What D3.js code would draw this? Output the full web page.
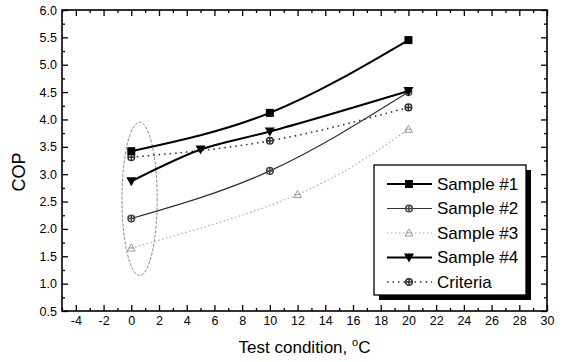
<!DOCTYPE html>
<html>
<head>
<meta charset="utf-8">
<script src="https://cdn.jsdelivr.net/npm/d3@7"></script>
<style>
  body { margin: 0; background: #fff; }
  svg { font-family: "Liberation Sans", Arial, sans-serif; }
</style>
</head>
<body>
<svg id="chart"></svg>
<script>
var width = 567,
    height = 362;

// data
var sample1 = [[0, 3.42], [10, 4.12], [20, 5.45]];
var sample2 = [[0, 2.19], [10, 3.06], [20, 4.50]];
var sample3 = [[0, 1.65], [12, 2.63], [20, 3.82]];
var sample4 = [[0, 2.87], [5, 3.45], [10, 3.78], [20, 4.52]];
var criteria = [[0, 3.31], [10, 3.61], [20, 4.22]];

var seriesNames = ['Sample #1', 'Sample #2', 'Sample #3', 'Sample #4', 'Criteria'];
var xMajor = d3.range(-4, 31, 2);
var yMajor = d3.range(0.5, 6.01, 0.5);

var MARGIN = { LEFT: 62, RIGHT: 20, TOP: 10, BOTTOM: 51 };

var series = [
    { name: seriesNames[0], data: sample1, stroke: '#000', sw: 2, dash: null, marker: 'square', fill: '#000' },
    { name: seriesNames[1], data: sample2, stroke: '#333', sw: 1.2, dash: null, marker: 'cross', fill: '#444' },
    { name: seriesNames[2], data: sample3, stroke: '#aaa', sw: 1.2, dash: '1.5,2.5', marker: 'tri', fill: '#999' },
    { name: seriesNames[3], data: sample4, stroke: '#000', sw: 2, dash: null, marker: 'tridown', fill: '#000' },
    { name: seriesNames[4], data: criteria, stroke: '#333', sw: 1.6, dash: '1.5,4', marker: 'cross', fill: '#333' }
];

var innerW = width - MARGIN.LEFT - MARGIN.RIGHT,
    innerH = height - MARGIN.TOP - MARGIN.BOTTOM;

var xScale = d3.scaleLinear().domain([-5, 30]).range([0, innerW]);
var yScale = d3.scaleLinear().domain([0.5, 6.0]).range([innerH, 0]);

var svg = d3.select('#chart')
    .attr('width', width)
    .attr('height', height);

var g = svg.append('g')
    .attr('transform', 'translate(' + MARGIN.LEFT + ',' + MARGIN.TOP + ')');

// ticks, all four sides, pointing in
var xMinor = d3.range(-5, 31, 1).filter(function (d) { return xMajor.indexOf(d) < 0; });
var yMinor = d3.range(0.75, 6, 0.5);

function tickAxis(axis, scale, values, size, labels) {
    var a = axis(scale).tickValues(values).tickSize(size).tickPadding(5);
    if (!labels) a.tickFormat('');
    return a;
}

var fmtX = function (d) { return String(d); };
var fmtY = function (d) { return d.toFixed(1); };

var axBottom = g.append('g').attr('transform', 'translate(0,' + innerH + ')');
axBottom.append('g').call(tickAxis(d3.axisBottom, xScale, xMajor, -6, true).tickFormat(fmtX));
axBottom.append('g').call(tickAxis(d3.axisBottom, xScale, xMinor, -3, false));

var axTop = g.append('g');
axTop.append('g').call(tickAxis(d3.axisTop, xScale, xMajor, -6, false));
axTop.append('g').call(tickAxis(d3.axisTop, xScale, xMinor, -3, false));

var axLeft = g.append('g');
axLeft.append('g').call(tickAxis(d3.axisLeft, yScale, yMajor, -6, true).tickFormat(fmtY));
axLeft.append('g').call(tickAxis(d3.axisLeft, yScale, yMinor, -3, false));

var axRight = g.append('g').attr('transform', 'translate(' + innerW + ',0)');
axRight.append('g').call(tickAxis(d3.axisRight, yScale, yMajor, -6, false));
axRight.append('g').call(tickAxis(d3.axisRight, yScale, yMinor, -3, false));

g.selectAll('.domain').remove();
g.selectAll('.tick line').attr('stroke', '#000').attr('stroke-width', 1.3);
g.selectAll('.tick text').style('font-size', '12.5px').attr('fill', '#000');

g.append('rect')
    .attr('width', innerW)
    .attr('height', innerH)
    .attr('fill', 'none')
    .attr('stroke', '#000')
    .attr('stroke-width', 1.6);

// the dashed ellipse round the 0 °C points
var ell = { cx: 0.6, cy: 2.55, rx: 1.27, ry: 1.4 };
g.append('ellipse')
    .attr('cx', xScale(ell.cx))
    .attr('cy', yScale(ell.cy))
    .attr('rx', xScale(ell.cx + ell.rx) - xScale(ell.cx))
    .attr('ry', yScale(ell.cy - ell.ry) - yScale(ell.cy))
    .attr('fill', 'none')
    .attr('stroke', '#777')
    .attr('stroke-width', 0.9)
    .attr('stroke-dasharray', '3,1.5');

var line = d3.line()
    .x(function (d) { return xScale(d[0]); })
    .y(function (d) { return yScale(d[1]); })
    .curve(d3.curveNatural);

function drawMarker(sel, s, x, y) {
    if (s.marker === 'square') {
        sel.append('rect').attr('x', x - 4).attr('y', y - 4).attr('width', 8).attr('height', 8).attr('fill', s.fill);
    } else if (s.marker === 'tridown') {
        sel.append('path').attr('d', 'M' + (x - 5) + ',' + (y - 4) + 'L' + (x + 5) + ',' + (y - 4) + 'L' + x + ',' + (y + 5) + 'Z').attr('fill', s.fill);
    } else if (s.marker === 'tri') {
        sel.append('path').attr('d', 'M' + (x - 4) + ',' + (y + 3) + 'L' + (x + 4) + ',' + (y + 3) + 'L' + x + ',' + (y - 4) + 'Z')
            .attr('fill', 'none').attr('stroke', s.fill).attr('stroke-width', 1);
        sel.append('path').attr('d', 'M' + (x - 3) + ',' + y + 'L' + (x + 3) + ',' + y).attr('stroke', s.fill).attr('stroke-width', 0.8);
    } else {
        sel.append('circle').attr('cx', x).attr('cy', y).attr('r', 3.3).attr('fill', 'none').attr('stroke', s.fill).attr('stroke-width', 1.5);
        sel.append('path').attr('d', 'M' + (x - 3.3) + ',' + y + 'L' + (x + 3.3) + ',' + y + 'M' + x + ',' + (y - 3.3) + 'L' + x + ',' + (y + 3.3))
            .attr('stroke', s.fill).attr('stroke-width', 1.5);
    }
}

var drawOrder = [2, 4, 1, 3, 0];
drawOrder.forEach(function (i) {
    var s = series[i];
    var sg = g.append('g');
    sg.append('path')
        .datum(s.data)
        .attr('d', line)
        .attr('fill', 'none')
        .attr('stroke', s.stroke)
        .attr('stroke-width', s.sw)
        .attr('stroke-dasharray', s.dash);
    s.data.forEach(function (d) {
        drawMarker(sg, s, xScale(d[0]), yScale(d[1]));
    });
});

// legend with drop shadow
var lg = svg.append('g').attr('transform', 'translate(374,165)');
var lw = 152, lh = 130;
lg.append('rect').attr('x', 5).attr('y', 5).attr('width', lw).attr('height', lh).attr('fill', '#000');
lg.append('rect').attr('width', lw).attr('height', lh).attr('fill', '#fff').attr('stroke', '#000').attr('stroke-width', 1.3);

series.forEach(function (s, i) {
    var y = 19 + i * 24.5;
    var row = lg.append('g');
    row.append('line')
        .attr('x1', 13).attr('x2', 58).attr('y1', y).attr('y2', y)
        .attr('stroke', s.stroke)
        .attr('stroke-width', s.sw)
        .attr('stroke-dasharray', s.dash);
    drawMarker(row, s, 35, y);
    row.append('text')
        .attr('x', 63)
        .attr('y', y)
        .attr('dy', '0.35em')
        .style('font-size', '17px')
        .text(s.name);
});

// axis titles
svg.append('text')
    .attr('x', MARGIN.LEFT + innerW / 2)
    .attr('y', 353)
    .attr('text-anchor', 'middle')
    .style('font-size', '17px')
    .html('Test condition, <tspan dy="-7" font-size="11px">o</tspan><tspan dy="7">C</tspan>');

svg.append('text')
    .attr('transform', 'translate(25,172) rotate(-90)')
    .attr('text-anchor', 'middle')
    .style('font-size', '18px')
    .text('COP');
</script>
</body>
</html>
